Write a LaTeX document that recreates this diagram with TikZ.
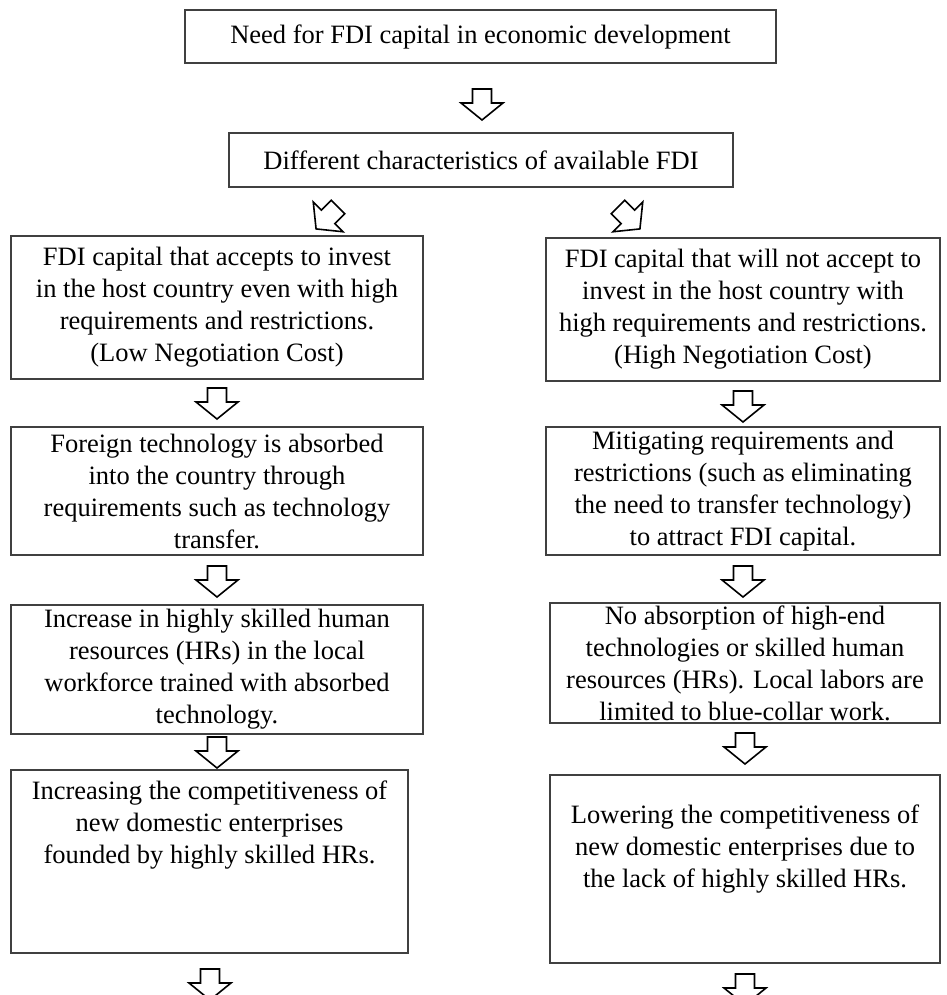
\documentclass[tikz,border=0pt]{standalone}
\usepackage{fontspec}
\setmainfont{Liberation Serif}
\tikzset{
  boxnode/.style={draw=black!75, line width=1.3pt, rectangle, inner sep=0pt, align=center,
    font=\fontsize{26.5}{32}\selectfont},
  txtnode/.style={align=center, inner sep=0pt, font=\fontsize{26.5}{32}\selectfont},
  darr/.pic={\draw[line width=1.6pt, fill=white, line join=miter]
    (-9.5,0) -- (9.5,0) -- (9.5,-14) -- (21,-14) -- (0,-31) -- (-21,-14) -- (-9.5,-14) -- cycle;}
}
\begin{document}
\begin{tikzpicture}[x=1pt,y=1pt]
\useasboundingbox (0,0) rectangle (946,-995);
\node[boxnode, minimum width=591pt, minimum height=53pt] (top) at (480.5,-36.5)
  {Need for FDI capital in economic development};
\node[boxnode, minimum width=504pt, minimum height=54pt] (diff) at (481,-160)
  {Different characteristics of available FDI};
\node[boxnode, minimum width=412pt, minimum height=143pt] (a1) at (217,-307.5)
  {FDI capital that accepts to invest\\in the host country even with high\\requirements and restrictions.\\(Low Negotiation Cost)};
\node[boxnode, minimum width=394pt, minimum height=143pt] (b1) at (743,-309.5)
  {FDI capital that will not accept to\\invest in the host country with\\high requirements and restrictions.\\(High Negotiation Cost)};
\node[boxnode, minimum width=412pt, minimum height=128pt] (a2) at (217,-491)
  {Foreign technology is absorbed\\into the country through\\requirements such as technology\\transfer.};
\node[boxnode, minimum width=394pt, minimum height=128pt] (b2) at (743,-491)
  {Mitigating requirements and\\restrictions (such as eliminating\\the need to transfer technology)\\to attract FDI capital.};
\node[boxnode, minimum width=412pt, minimum height=129pt] (a3) at (217,-669.5)
  {Increase in highly skilled human\\resources (HRs) in the local\\workforce trained with absorbed\\technology.};
\node[boxnode, minimum width=390pt, minimum height=120pt] (b3) at (745,-663)
  {No absorption of high-end\\technologies or skilled human\\resources (HRs). Local labors are\\limited to blue-collar work.};
\node[boxnode, minimum width=397pt, minimum height=183pt] (a4) at (209.5,-861.5) {};
\node[txtnode] (a4t) at (209.5,-825)
  {Increasing the competitiveness of\\new domestic enterprises\\founded by highly skilled HRs.};
\node[boxnode, minimum width=390pt, minimum height=188pt] (b4) at (745,-869) {};
\node[txtnode] (b4t) at (745,-849)
  {Lowering the competitiveness of\\new domestic enterprises due to\\the lack of highly skilled HRs.};
\pic at (482,-89) {darr};
\pic[rotate=-45] at (338,-207) {darr};
\pic[rotate=45] at (618,-207) {darr};
\pic at (217,-388) {darr};
\pic at (743,-391) {darr};
\pic at (217,-566) {darr};
\pic at (743,-566) {darr};
\pic at (217,-737) {darr};
\pic at (745,-733) {darr};
\pic at (210,-969) {darr};
\pic at (745,-974) {darr};
\end{tikzpicture}
\end{document}
